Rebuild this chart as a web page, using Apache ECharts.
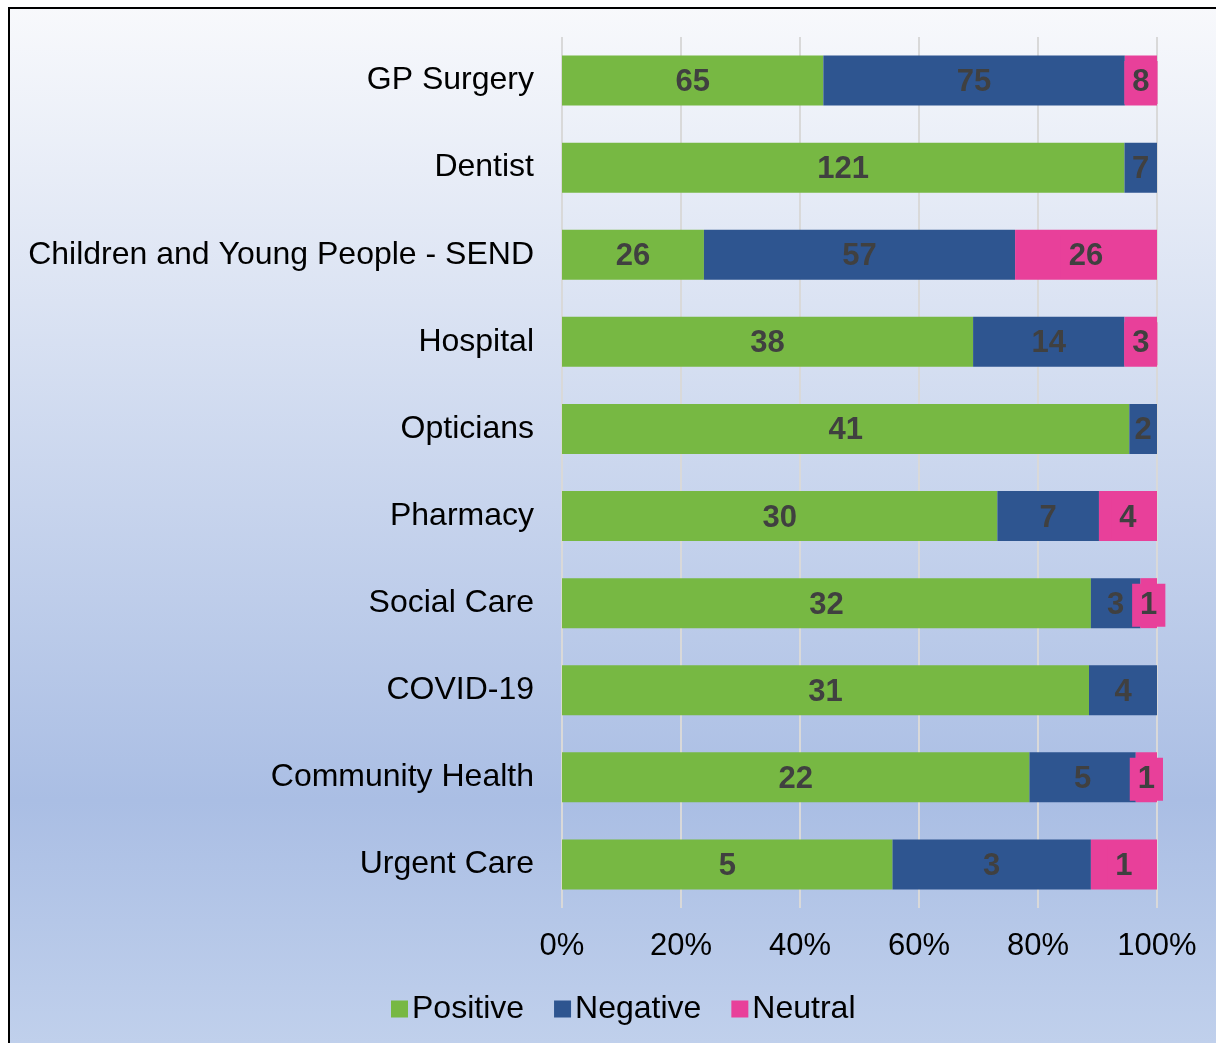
<!DOCTYPE html>
<html>
<head>
<meta charset="utf-8">
<script src="https://cdn.jsdelivr.net/npm/echarts@6/dist/echarts.min.js"></script>
<style>
  html, body { margin: 0; padding: 0; background: #ffffff; }
  #main { width: 1216px; height: 1043px; }
</style>
</head>
<body>
<div id="main"></div>
<script>
// categories, top to bottom
var categories = [
  "GP Surgery", "Dentist", "Children and Young People - SEND", "Hospital",
  "Opticians", "Pharmacy", "Social Care", "COVID-19", "Community Health", "Urgent Care"
];
var positive = [65, 121, 26, 38, 41, 30, 32, 31, 22, 5];
var negative = [75, 7, 57, 14, 2, 7, 3, 4, 5, 3];
var neutral = [8, 0, 26, 3, 0, 4, 1, 0, 1, 1];
var tickLabels = ["0%", "20%", "40%", "60%", "80%", "100%"];

var myChart = echarts.init(document.getElementById("main"));

// each row as shares, so the bars stack to 100%; zero counts get no label
function share(arr) {
  return arr.map(function (v, i) {
    var total = positive[i] + negative[i] + neutral[i];
    return { value: v / total * 100, label: { show: v > 0 } };
  });
}

function countLabel(raw, bg) {
  return {
    show: true,
    position: "inside",
    offset: [0, 2],
    color: "#404040",
    fontFamily: "Liberation Sans, Arial",
    fontWeight: "bold",
    fontSize: 31,
    backgroundColor: bg,
    padding: bg ? [7, 8, 5, 8] : 0,
    formatter: function (p) {
      return String(raw[p.dataIndex]);
    }
  };
}

var option = {
  animation: false,
  graphic: [
    {
      type: "rect",
      z: -100,
      silent: true,
      shape: { x: 9, y: 8, width: 1300, height: 1100 },
      style: {
        fill: new echarts.graphic.LinearGradient(0, 0, 0, 1, [
          { offset: 0, color: "#f8f9fc" },
          { offset: 0.72, color: "#aabee4" },
          { offset: 1, color: "#c6d5ee" }
        ]),
        stroke: "#000000",
        lineWidth: 2
      }
    }
  ],
  legend: {
    left: 386,
    top: 988,
    itemWidth: 17,
    itemHeight: 17,
    itemGap: 30,
    icon: "rect",
    textStyle: { fontFamily: "Liberation Sans, Arial", fontSize: 32, color: "#000000", padding: [0, 0, 0, -1] },
    data: ["Positive", "Negative", "Neutral"]
  },
  grid: {
    left: 562,
    right: 59,
    top: 37,
    bottom: 135,
    containLabel: false
  },
  xAxis: {
    type: "value",
    min: 0,
    max: 100,
    interval: 20,
    axisLine: { show: false },
    axisTick: { show: false },
    splitLine: { lineStyle: { color: "#d9d9d9", width: 2 } },
    axisLabel: {
      margin: 23,
      fontFamily: "Liberation Sans, Arial",
      fontSize: 31,
      color: "#000000",
      formatter: function (v) { return tickLabels[Math.round(v / 20)]; }
    }
  },
  yAxis: {
    type: "category",
    inverse: true,
    data: categories,
    axisLine: { show: false },
    axisTick: { show: false },
    axisLabel: {
      margin: 28,
      fontFamily: "Liberation Sans, Arial",
      fontSize: 32,
      color: "#000000",
      padding: [10, 0, 0, 0]
    }
  },
  series: [
    {
      name: "Positive",
      type: "bar",
      stack: "all",
      barWidth: 50,
      itemStyle: { color: "#77b843" },
      label: countLabel(positive),
      data: share(positive)
    },
    {
      name: "Negative",
      type: "bar",
      stack: "all",
      barWidth: 50,
      itemStyle: { color: "#2e5590" },
      label: countLabel(negative),
      data: share(negative)
    },
    {
      name: "Neutral",
      type: "bar",
      stack: "all",
      barWidth: 50,
      itemStyle: { color: "#e8409a" },
      label: countLabel(neutral, "#e8409a"),
      data: share(neutral)
    }
  ]
};

option && myChart.setOption(option);
</script>
</body>
</html>
